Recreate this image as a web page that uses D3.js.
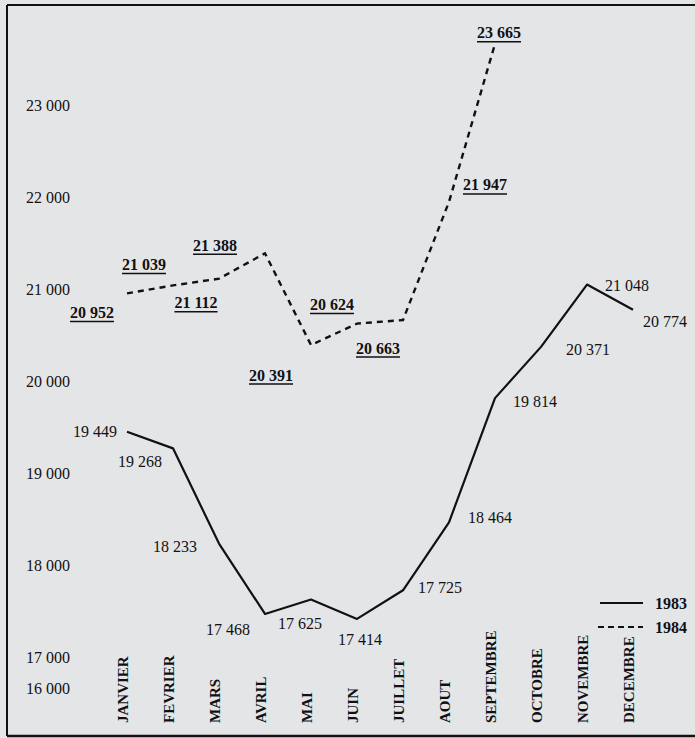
<!DOCTYPE html>
<html>
<head>
<meta charset="utf-8">
<script src="https://cdn.jsdelivr.net/npm/d3@7"></script>
<style>
  body { margin: 0; background: #e4e5e7; }
  svg { display: block; }
</style>
</head>
<body>
<div id="main_output"></div>
<script>
// Demandes d'emploi en fin de mois, 1983 / 1984
var months = ["JANVIER", "FEVRIER", "MARS", "AVRIL", "MAI", "JUIN", "JUILLET",
              "AOUT", "SEPTEMBRE", "OCTOBRE", "NOVEMBRE", "DECEMBRE"];
var values_1983 = [19449, 19268, 18233, 17468, 17625, 17414, 17725, 18464, 19814, 20371, 21048, 20774];
var values_1984 = [20952, 21039, 21112, 21388, 20391, 20624, 20663, 21947, 23665];
var y_ticks = [23000, 22000, 21000, 20000, 19000, 18000, 17000, 16000];
var legend_years = ["1983", "1984"];

// label offsets (layout only) relative to the point
var off_1983 = [[-32, 0], [-33, 13], [-44, 3], [-37, 15], [-11, 24], [3, 20], [37, -3], [41, -5], [40, 3], [47, 3], [40, 1], [32, 12]];
var off_1984 = [[-35, 19], [-29, -21], [-23, 24], [-50, -8], [-40, 30], [-25, -19], [-25, 28], [36, -17], [4, -11]];

const ink = "#111113";
const paper = "#e4e5e7";
const font = "'Liberation Serif', 'Times New Roman', serif";

var width = 695, height = 738;

var svg = d3.select("#main_output")
  .append("svg")
  .attr("width", width)
  .attr("height", height)
  .style("background", paper);

var x = d3.scalePoint().domain(months).range([127, 633]);
// axis has a break between 16 000 and 17 000
var y = d3.scaleLinear().domain([16000, 17000, 23000]).range([688, 657, 105]);

function fmt(v) { return d3.format(",")(v).replace(",", " "); }

// frame
svg.append("line").attr("x1", 7).attr("x2", width).attr("y1", 5).attr("y2", 5)
  .attr("stroke", ink).attr("stroke-width", 2);
svg.append("line").attr("x1", 7).attr("x2", 7).attr("y1", 5).attr("y2", 736)
  .attr("stroke", ink).attr("stroke-width", 2);
svg.append("line").attr("x1", 7).attr("x2", width).attr("y1", 736).attr("y2", 736)
  .attr("stroke", ink).attr("stroke-width", 2.5);

// y labels (plain text, no ticks)
svg.append("g").selectAll("text")
  .data(y_ticks)
  .enter().append("text")
  .attr("x", 48)
  .attr("y", function(d) { return y(d); })
  .attr("dy", "0.35em")
  .attr("text-anchor", "middle")
  .attr("font-family", font)
  .attr("font-size", "16px")
  .attr("fill", ink)
  .text(fmt);

// month labels
svg.append("g").selectAll("text")
  .data(months)
  .enter().append("text")
  .attr("transform", function(d) { return "translate(" + (x(d) + 1) + ",723) rotate(-90)"; })
  .attr("font-family", font)
  .attr("font-weight", "bold")
  .attr("font-size", "15px")
  .attr("fill", ink)
  .text(function(d) { return d; });

var line = d3.line()
  .x(function(d, i) { return x(months[i]); })
  .y(function(d) { return y(d); });

svg.append("path")
  .datum(values_1983)
  .attr("fill", "none")
  .attr("stroke", ink)
  .attr("stroke-width", 2.2)
  .attr("stroke-linejoin", "round")
  .attr("d", line);

svg.append("path")
  .datum(values_1984)
  .attr("fill", "none")
  .attr("stroke", ink)
  .attr("stroke-width", 2.4)
  .attr("stroke-dasharray", "6,5")
  .attr("d", line);

// value labels 1983
svg.append("g").selectAll("text")
  .data(values_1983)
  .enter().append("text")
  .attr("x", function(d, i) { return x(months[i]) + off_1983[i][0]; })
  .attr("y", function(d, i) { return y(d) + off_1983[i][1]; })
  .attr("dy", "0.35em")
  .attr("text-anchor", "middle")
  .attr("font-family", font)
  .attr("font-size", "16px")
  .attr("fill", ink)
  .text(fmt);

// value labels 1984 (underlined)
var lab84 = svg.append("g").selectAll("g")
  .data(values_1984)
  .enter().append("g")
  .attr("transform", function(d, i) {
    return "translate(" + (x(months[i]) + off_1984[i][0]) + "," + (y(d) + off_1984[i][1]) + ")";
  });

lab84.append("text")
  .attr("dy", "0.35em")
  .attr("text-anchor", "middle")
  .attr("font-family", font)
  .attr("font-weight", "bold")
  .attr("font-size", "16px")
  .attr("fill", ink)
  .text(fmt);

lab84.append("line")
  .attr("x1", function() { return -this.parentNode.querySelector("text").getComputedTextLength() / 2; })
  .attr("x2", function() { return this.parentNode.querySelector("text").getComputedTextLength() / 2; })
  .attr("y1", 9).attr("y2", 9)
  .attr("stroke", ink)
  .attr("stroke-width", 1.5);

// legend
var legend = svg.append("g").selectAll("g")
  .data(legend_years)
  .enter().append("g")
  .attr("transform", function(d, i) { return "translate(600," + (603 + i * 24) + ")"; });

legend.append("line")
  .attr("x1", function(d, i) { return i ? -2 : 0; })
  .attr("x2", 43)
  .attr("stroke", ink)
  .attr("stroke-width", 2)
  .attr("stroke-dasharray", function(d, i) { return i ? "6,4" : null; });

legend.append("text")
  .attr("x", 55)
  .attr("dy", "0.35em")
  .attr("font-family", font)
  .attr("font-weight", "bold")
  .attr("font-size", "16px")
  .attr("fill", ink)
  .text(function(d) { return d; });
</script>
</body>
</html>
